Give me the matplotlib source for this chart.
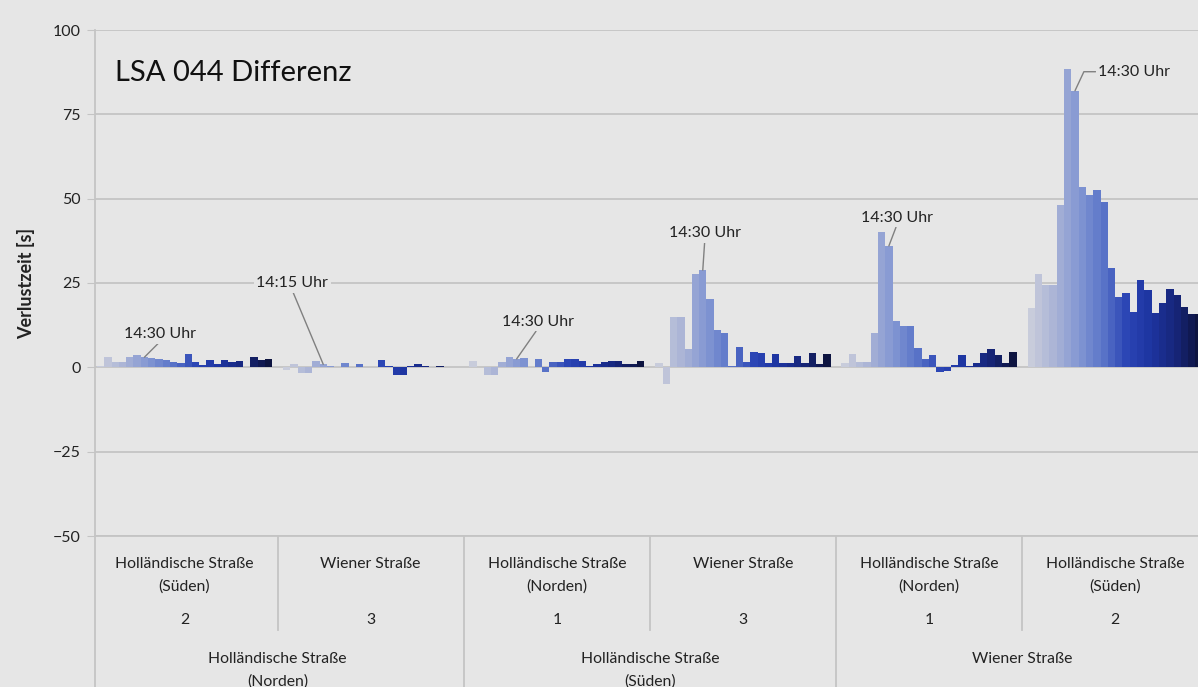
import matplotlib
matplotlib.use("Agg")
import matplotlib.pyplot as plt
import matplotlib.transforms as mtrans
from matplotlib.colors import LinearSegmentedColormap

plt.rcParams['font.family'] = ['Lato', 'DejaVu Sans']

# Verlustzeit-Differenz je 15-min-Intervall (13:00 ... 18:45), eine Liste pro Zufahrt/Fahrstreifen
g1 = [0.5, 3.0, 1.5, 1.5, 3.0, 3.7, 3.0, 2.8, 2.4, 2.1, 1.7, 1.3, 3.9, 1.5, 0.7, 2.3, 1.1, 2.3, 1.5, 1.9, 0.0, 3.2, 2.1, 2.5]
g2 = [-0.9, 1.0, -1.7, -1.7, 1.8, 0.9, 0.3, 0.0, 1.4, 0.0, 1.1, 0.0, 0.0, 2.2, 0.3, -2.2, -2.2, 0.5, 1.1, 0.3, 0.0, 0.4, 0.0, 0.0]
g3 = [1.8, 0.0, -2.4, -2.4, 1.5, 3.1, 2.5, 2.9, 0.0, 2.4, -1.4, 1.6, 1.6, 2.6, 2.6, 2.0, 0.3, 1.1, 1.6, 2.0, 2.0, 1.1, 1.1, 2.0]
g4 = [1.3, -5.0, 14.8, 14.8, 5.3, 27.6, 28.8, 20.2, 11.2, 10.2, 0.3, 6.0, 1.6, 4.5, 4.3, 1.3, 3.9, 1.3, 1.3, 3.5, 1.3, 4.3, 0.9, 3.9]
g5 = [1.3, 3.9, 1.7, 1.7, 10.3, 40.2, 36.0, 13.7, 12.2, 12.2, 5.7, 2.5, 3.7, -1.4, -1.2, 0.7, 3.7, 0.5, 1.3, 4.3, 5.3, 3.7, 1.2, 4.4]
g6 = [17.7, 27.8, 24.3, 24.3, 48.1, 88.4, 82.0, 53.5, 51.0, 52.5, 49.0, 29.3, 20.9, 22.0, 16.4, 26.0, 22.8, 16.1, 19.1, 23.3, 21.4, 17.9, 15.7, 15.7]
gruppen = [g1, g2, g3, g4, g5, g6]

zufahrt = ["Holländische Straße\n(Süden)", "Wiener Straße", "Holländische Straße\n(Norden)",
           "Wiener Straße", "Holländische Straße\n(Norden)", "Holländische Straße\n(Süden)"]
streifen = ["2", "3", "1", "3", "1", "2"]
knoten = ["Holländische Straße\n(Norden)", "Holländische Straße\n(Süden)", "Wiener Straße"]

# (Gruppe, Intervall, Text)
markierungen = [(0, 6, "14:30 Uhr"), (1, 5, "14:15 Uhr"), (2, 6, "14:30 Uhr"),
                (3, 6, "14:30 Uhr"), (4, 6, "14:30 Uhr"), (5, 6, "14:30 Uhr")]
versatz = [(16, 23), (-31, 81), (21, 37), (2, 37), (8, 28), (59, 19)]

bg = "#e6e6e6"
grid = "#c4c4c4"
cmap = LinearSegmentedColormap.from_list("verlauf", ["#c8ccdb", "#a9b3d6", "#8196d2", "#5a74c8",
                                                      "#2a44b4", "#1d34a0", "#17267a", "#0d1440"])

P = 25.5   # Breite einer Gruppe in Balken
off = 0.75

fig = plt.figure(figsize=(11.98, 6.87), dpi=100, facecolor=bg)
ax = fig.add_axes([95 / 1198, (687 - 536) / 687, 1 - 95 / 1198, (536 - 30) / 687])
ax.set_facecolor(bg)

n = len(g1)
for g, werte in enumerate(gruppen):
    xs = [g * P + off + i + 0.5 for i in range(n)]
    farben = [cmap(i / (n - 1)) for i in range(n)]
    ax.bar(xs, werte, width=1.0, color=farben, linewidth=0, zorder=3)

ax.set_ylim(-50, 100)
ax.set_xlim(0.48, 151.6)
ax.set_yticks([-50, -25, 0, 25, 50, 75, 100])
ax.yaxis.grid(True, color=grid, linewidth=1.3, zorder=0)
ax.set_xticks([])
for s in ["top", "right"]:
    ax.spines[s].set_visible(False)
ax.spines["left"].set_color(grid)
ax.spines["bottom"].set_color(grid)
ax.spines["left"].set_linewidth(1.3)
ax.spines["bottom"].set_linewidth(1.3)
ax.tick_params(axis="y", length=6, color=grid, labelsize=11.5, pad=4, labelcolor="#222222")
ax.set_ylabel("Verlustzeit [s]", fontsize=13, fontweight="bold", labelpad=13, color="#222222")

ax.text(0.018, 0.915, "LSA 044 Differenz", transform=ax.transAxes, fontsize=21, color="#111111",
        va="center", ha="left")

for (g, i, txt), (dx, dy) in zip(markierungen, versatz):
    x = g * P + off + i + 0.5
    y = gruppen[g][i]
    if g == 5:
        cs = "angle,angleA=180,angleB=65,rad=0"
        rp = (0, 0.5)
    else:
        cs = "arc3"
        rp = (0.5, 0)
    ax.annotate(txt, xy=(x, y), xytext=(dx, dy), textcoords="offset pixels",
                ha="center", va="center", fontsize=11.5, color="#222222", zorder=5,
                bbox=dict(boxstyle="square,pad=0.15", fc=bg, ec="none"),
                arrowprops=dict(arrowstyle="-", color="#808080", lw=1.0, relpos=rp,
                                connectionstyle=cs, shrinkA=0, shrinkB=0))

# mehrstufige Kategorienachse
tr = mtrans.blended_transform_factory(ax.transData, ax.transAxes)
for g in range(len(gruppen)):
    mitte = g * P + P / 2
    ax.text(mitte, -0.041, zufahrt[g], transform=tr, ha="center", va="top", fontsize=11.3,
            color="#222222", linespacing=1.75, clip_on=False)
    ax.text(mitte, -0.166, streifen[g], transform=tr, ha="center", va="center", fontsize=11.3,
            color="#222222", clip_on=False)
for k in range(len(knoten)):
    mitte = k * 2 * P + P
    ax.text(mitte, -0.229, knoten[k], transform=tr, ha="center", va="top", fontsize=11.3,
            color="#222222", linespacing=1.75, clip_on=False)
for g in range(1, 7):
    unten = -0.186 if g % 2 == 1 else -0.32
    ax.plot([g * P, g * P], [0, unten], transform=tr, color=grid, lw=1.3, clip_on=False)
ax.plot([0.48, 0.48], [0, -0.32], transform=tr, color=grid, lw=1.3, clip_on=False)

fig.savefig("out.png", dpi=100, facecolor=bg)
